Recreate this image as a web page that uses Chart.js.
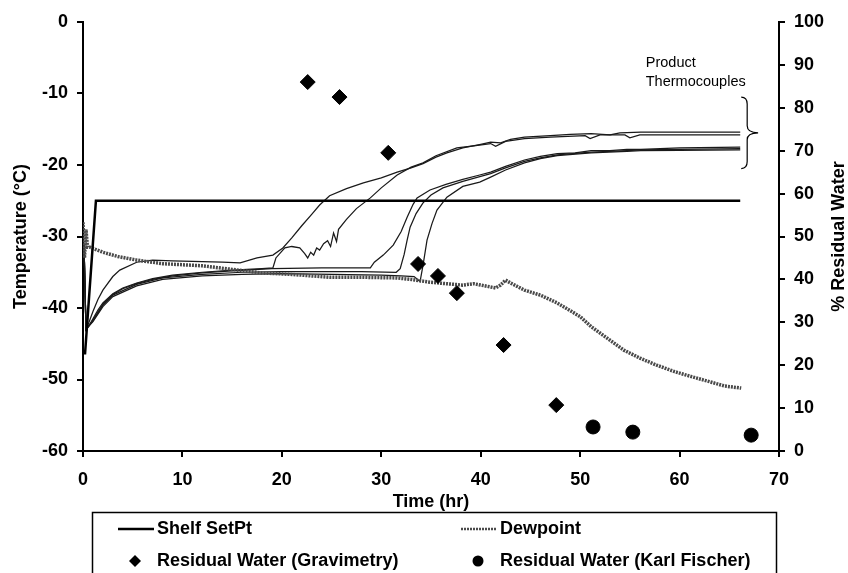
<!DOCTYPE html>
<html>
<head>
<meta charset="utf-8">
<script src="https://cdn.jsdelivr.net/npm/chart.js@4.4.0/dist/chart.umd.min.js"></script>
<style>
  html, body { margin: 0; padding: 0; background: #fff; }
</style>
</head>
<body>
<canvas id="chart" width="848" height="573"></canvas>
<script>
// [time (hr), temperature (°C)]
const shelfSetPt = [[0.2, -46.5], [1.3, -25], [66.1, -25]];

const dewpoint = [
  [0, -28], [0.15, -33], [0.3, -29], [0.45, -31.5], [0.7, -31.5], [2, -32.2], [3.5, -32.8],
  [5.4, -33.3], [8, -33.8], [12, -34.1], [15, -34.6], [18, -35.1], [21, -35.3], [24.8, -35.7],
  [28, -35.7], [31.6, -35.8], [33, -36.0], [34.9, -36.4], [38.2, -36.8], [39.3, -36.6],
  [41.5, -37.2], [42, -36.8], [42.5, -36.1], [43, -36.5], [44.4, -37.5], [46, -38.2],
  [47.7, -39.3], [50, -41.2], [51.1, -42.6], [52.5, -44], [54.4, -45.9], [56, -47],
  [57.7, -48], [59.5, -48.9], [61.2, -49.6], [63, -50.3], [64.5, -50.9], [66.2, -51.2]
];

const thermocouple1 = [
  [0.1, -31], [0.3, -43], [0.6, -42], [1, -40.5], [1.5, -38.8], [2, -37.5], [3, -35.6],
  [3.7, -34.7], [5.4, -33.6], [7, -33.3], [9, -33.4], [12, -33.5], [14, -33.6], [15.8, -33.7],
  [17.5, -33.0], [19.1, -32.6], [20.1, -31.6], [21, -30.2], [22, -28.5], [23, -26.9],
  [23.8, -25.6], [24.8, -24.3], [26.5, -23.3], [28.2, -22.5], [30, -21.8], [31.6, -21],
  [33, -20.4], [34.2, -19.8], [35.5, -18.9], [36.6, -18.3], [38.2, -17.6], [40, -17.1],
  [41, -16.8], [42, -16.9], [43, -16.4], [44.4, -16.1], [47, -15.9], [49, -15.7],
  [51.1, -15.6], [53, -15.8], [54, -15.5], [56.1, -15.4], [60, -15.4], [66.1, -15.4]
];

const thermocouple2 = [
  [0.1, -31], [0.3, -43], [0.6, -42.5], [1, -41.5], [1.5, -40.3], [2, -39.3], [3, -38],
  [4, -37.2], [5.4, -36.5], [7, -35.9], [9, -35.4], [12, -35], [15, -34.7], [18, -34.5],
  [19.1, -34.4], [19.4, -33], [20.3, -31.6], [21, -31.4], [21.8, -31.6], [22.3, -32.4],
  [22.6, -33.0], [22.9, -32.2], [23.2, -32.6], [23.5, -31.6], [23.8, -31.9], [24.2, -31],
  [24.6, -30.6], [24.9, -31.4], [25.2, -29.5], [25.5, -30.7], [25.7, -29], [26.5, -27.6],
  [27.5, -26.1], [28.9, -24.6], [30, -23.2], [31.6, -21.4], [33, -20.3], [34.2, -19.7],
  [35.5, -18.7], [37.6, -17.6], [39.5, -17.3], [41, -17.0], [41.5, -17.4], [42.5, -16.7],
  [44.4, -16.3], [47, -16.1], [50.5, -15.9], [51, -16.3], [52, -15.8], [54.5, -15.8],
  [55, -16.2], [56, -15.8], [66.1, -15.8]
];

const thermocouple3 = [
  [0.1, -31], [0.3, -43], [1, -41.7], [2, -39.5], [3, -38.1], [4, -37.3], [5.4, -36.6],
  [7, -36], [9, -35.5], [12, -35.1], [15, -34.8], [19, -34.5], [24, -34.4], [28.9, -34.4],
  [29.3, -33.6], [30.2, -32.6], [31.2, -31.2], [32, -29.3], [32.6, -27.3], [33.2, -25.5],
  [33.6, -24.6], [34.9, -23.5], [36.5, -22.7], [38.2, -22.0], [39.9, -21.4], [41, -21.0],
  [42.5, -20.2], [44.4, -19.3], [46, -18.8], [47.7, -18.4], [49.5, -18.3], [51.1, -18.0],
  [53, -18.0], [54.7, -17.8], [56.1, -17.8], [60, -17.6], [66.1, -17.5]
];

const thermocouple4 = [
  [0.1, -31], [0.3, -43], [1, -41.8], [2, -39.6], [3, -38.2], [5.4, -36.7], [8, -35.8],
  [12, -35.3], [16, -35.0], [20, -34.9], [25, -34.9], [28, -34.9], [31.5, -35],
  [31.9, -34.5], [32.3, -32.5], [32.6, -30.5], [32.9, -28.7], [33.5, -26.8], [34.2, -25.3],
  [35, -24.2], [36.2, -23.2], [38.2, -22.3], [40, -21.6], [41, -21.2], [42.5, -20.4],
  [44.4, -19.5], [46, -19.0], [47.7, -18.6], [51.1, -18.2], [54.7, -18.0], [56.1, -17.9],
  [60, -17.8], [66.1, -17.7]
];

const thermocouple5 = [
  [0.1, -31], [0.3, -43], [1, -41.9], [2, -39.8], [3, -38.4], [5.4, -36.9], [8, -36],
  [12, -35.5], [16, -35.3], [20, -35.2], [25, -35.3], [30, -35.4], [32, -35.5], [33.3, -35.6],
  [33.9, -36.3], [34.2, -34], [34.6, -30.5], [35.1, -28.2], [35.6, -26.3], [36.6, -24.5],
  [38.2, -23.0], [39.9, -22.4], [41, -21.7], [42.5, -20.7], [44.4, -19.7], [46, -19.1],
  [47.7, -18.7], [51.1, -18.3], [54.7, -18.1], [56.1, -18.0], [60, -17.95], [66.1, -17.9]
];

// [time (hr), % residual water]
const gravimetry = [
  [22.6, 86.0], [25.8, 82.5], [30.7, 69.5], [33.7, 43.6], [35.7, 40.8], [37.6, 36.8],
  [42.3, 24.7], [47.6, 10.7]
];
const karlFischer = [[51.3, 5.6], [55.3, 4.4], [67.2, 3.7]];

const timeTicks = [0, 10, 20, 30, 40, 50, 60, 70];
const tempTicks = [-60, -50, -40, -30, -20, -10, 0];
const waterTicks = [0, 10, 20, 30, 40, 50, 60, 70, 80, 90, 100];

// legend reads left to right, top to bottom
const seriesNames = ['Shelf SetPt', 'Dewpoint', 'Residual Water (Gravimetry)', 'Residual Water (Karl Fischer)'];
const noteLines = ['Product', 'Thermocouples'];
const axisTitles = { x: 'Time (hr)', y: 'Temperature (°C)', y1: '% Residual Water' };

const FONT = '"Liberation Sans", Arial, sans-serif';
const BOLD = { family: FONT, size: 18, weight: 'bold' };

function pts(list) {
  return list.map(([x, y]) => ({ x, y }));
}

function tcSet(list) {
  return {
    type: 'line', data: pts(list), yAxisID: 'y', order: 3,
    borderColor: '#1a1a1a', borderWidth: 1.25, pointRadius: 0, tension: 0
  };
}

// legend box + note + right-hand title, drawn on top of the chart
const overlay = {
  id: 'overlay',
  afterDraw(chart) {
    const { ctx, chartArea, scales } = chart;
    const { x, y } = scales;
    ctx.save();
    ctx.fillStyle = '#000';
    ctx.strokeStyle = '#000';

    // right title reads bottom to top
    ctx.save();
    ctx.font = 'bold 18px ' + FONT;
    ctx.textAlign = 'center';
    ctx.textBaseline = 'middle';
    ctx.translate(839, (chartArea.top + chartArea.bottom) / 2);
    ctx.rotate(-Math.PI / 2);
    ctx.fillText(axisTitles.y1, 0, 0);
    ctx.restore();

    // product thermocouples note and brace
    ctx.font = '14.5px ' + FONT;
    ctx.textAlign = 'left';
    ctx.textBaseline = 'middle';
    ctx.fillText(noteLines[0], x.getPixelForValue(56.6), y.getPixelForValue(-5.7));
    ctx.fillText(noteLines[1], x.getPixelForValue(56.6), y.getPixelForValue(-8.4));
    const xl = x.getPixelForValue(66.2), xm = x.getPixelForValue(66.8), xt = x.getPixelForValue(67.9);
    const yt = y.getPixelForValue(-10.5), yc = y.getPixelForValue(-15.5), yb = y.getPixelForValue(-20.5);
    ctx.lineWidth = 1.2;
    ctx.beginPath();
    ctx.moveTo(xl, yt);
    ctx.quadraticCurveTo(xm, yt, xm, yt + 7);
    ctx.lineTo(xm, yc - 7);
    ctx.quadraticCurveTo(xm, yc, xt, yc);
    ctx.quadraticCurveTo(xm, yc, xm, yc + 7);
    ctx.lineTo(xm, yb - 7);
    ctx.quadraticCurveTo(xm, yb, xl, yb);
    ctx.stroke();

    // legend box, two columns
    ctx.lineWidth = 1.5;
    ctx.strokeRect(92.5, 512.5, 684, 90);
    ctx.font = 'bold 18px ' + FONT;
    const cols = [118, 461];
    const rows = [529, 561];
    seriesNames.forEach((name, i) => {
      const d = chart.data.datasets.find(s => s.label === name);
      const cx = cols[i % 2], cy = rows[Math.floor(i / 2)];
      if (d.type === 'line') {
        ctx.save();
        ctx.strokeStyle = d.borderColor;
        ctx.lineWidth = Math.min(d.borderWidth, 2.5);
        ctx.setLineDash(d.borderDash || []);
        ctx.beginPath();
        ctx.moveTo(cx, cy);
        ctx.lineTo(cx + 36, cy);
        ctx.stroke();
        ctx.restore();
      } else {
        ctx.beginPath();
        const mx = cx + 17, r = 6;
        if (d.pointStyle === 'rectRot') {
          ctx.moveTo(mx - r, cy); ctx.lineTo(mx, cy - r); ctx.lineTo(mx + r, cy); ctx.lineTo(mx, cy + r);
          ctx.closePath();
        } else {
          ctx.arc(mx, cy, 5.5, 0, Math.PI * 2);
        }
        ctx.fill();
      }
      ctx.fillText(d.label, cx + 39, cy);
    });
    ctx.restore();
  }
};

new Chart(document.getElementById('chart'), {
  type: 'scatter',
  data: {
    datasets: [
      {
        type: 'scatter', label: seriesNames[2], data: pts(gravimetry), yAxisID: 'y1', order: 0,
        pointStyle: 'rectRot', pointRadius: 7.5, backgroundColor: '#000', borderColor: '#000'
      },
      {
        type: 'scatter', label: seriesNames[3], data: pts(karlFischer), yAxisID: 'y1', order: 0,
        pointStyle: 'circle', pointRadius: 7, backgroundColor: '#000', borderColor: '#000'
      },
      {
        type: 'line', label: seriesNames[0], data: pts(shelfSetPt), yAxisID: 'y', order: 1,
        borderColor: '#000', borderWidth: 2.5, pointRadius: 0
      },
      {
        type: 'line', label: seriesNames[1], data: pts(dewpoint), yAxisID: 'y', order: 2,
        borderColor: '#4a4a4a', borderWidth: 3.5, borderDash: [2, 1], pointRadius: 0
      },
      tcSet(thermocouple1), tcSet(thermocouple2), tcSet(thermocouple3),
      tcSet(thermocouple4), tcSet(thermocouple5)
    ]
  },
  options: {
    responsive: false,
    animation: false,
    devicePixelRatio: 1,
    layout: { padding: { top: 22, right: 0, bottom: 60, left: 0 } },
    plugins: { legend: { display: false }, tooltip: { enabled: false } },
    scales: {
      x: {
        type: 'linear', min: 0, max: 70,
        afterBuildTicks: s => { s.ticks = timeTicks.map(v => ({ value: v })); },
        afterFit: s => { s.height = 62; },
        border: { color: '#000', width: 2 },
        grid: { drawOnChartArea: false, color: '#000', lineWidth: 2, tickLength: 6 },
        ticks: { color: '#000', font: BOLD, padding: 12, maxRotation: 0 },
        title: { display: true, text: axisTitles.x, color: '#000', font: BOLD, padding: { top: 0, bottom: 0 } }
      },
      y: {
        type: 'linear', position: 'left', min: -60, max: 0,
        afterBuildTicks: s => { s.ticks = tempTicks.map(v => ({ value: v })); },
        afterFit: s => { s.width = 83; },
        border: { color: '#000', width: 2 },
        grid: { drawOnChartArea: false, color: '#000', lineWidth: 2, tickLength: 6 },
        ticks: { color: '#000', font: BOLD, padding: 9 },
        title: { display: true, text: axisTitles.y, color: '#000', font: BOLD, padding: { top: 10, bottom: 0 } }
      },
      y1: {
        type: 'linear', position: 'right', min: 0, max: 100,
        afterBuildTicks: s => { s.ticks = waterTicks.map(v => ({ value: v })); },
        afterFit: s => { s.width = 69; },
        border: { color: '#000', width: 2 },
        grid: { drawOnChartArea: false, color: '#000', lineWidth: 2, tickLength: 6 },
        ticks: { color: '#000', font: BOLD, padding: 9 }
      }
    }
  },
  plugins: [overlay]
});
</script>
</body>
</html>
